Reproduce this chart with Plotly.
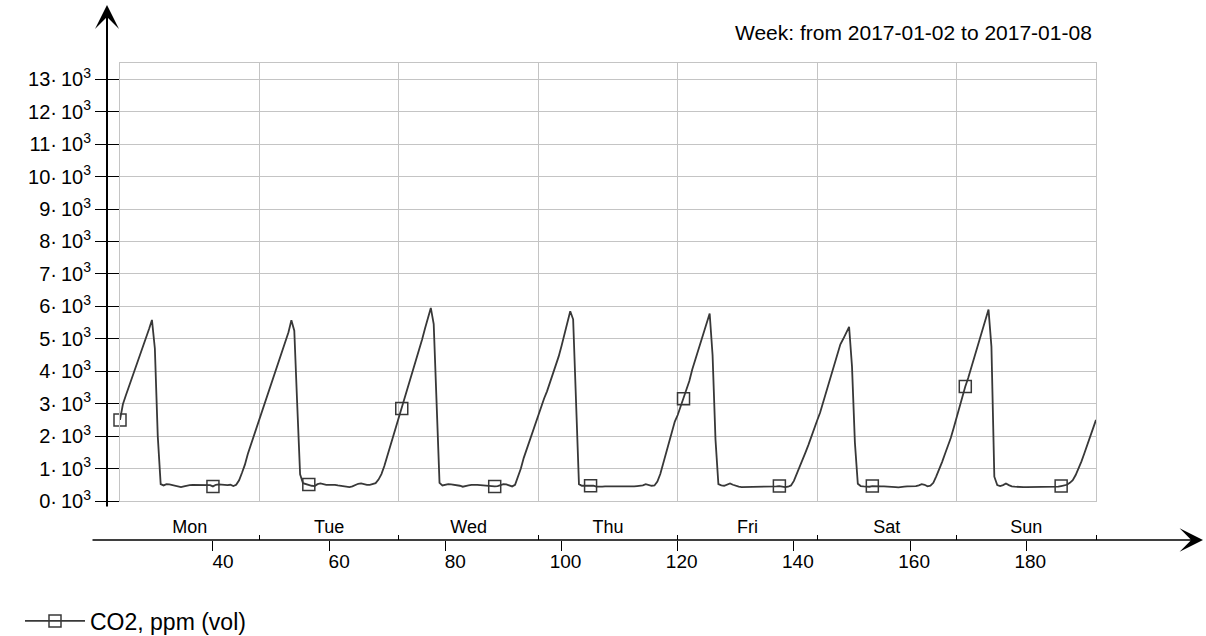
import plotly.graph_objects as go

# ---------------------------------------------------------------------------
# CO2 concentration, ppm (vol), one reading every half hour.
# Hour 24 is Monday 00:00, hour 192 is the following Monday 00:00.
# ---------------------------------------------------------------------------
day_names = ["Mon", "Tue", "Wed", "Thu", "Fri", "Sat", "Sun"]
start_hour = 24.0
step_hours = 0.5

mon = [2500, 2980, 3250, 3500, 3760, 4020, 4280, 4530, 4790, 5040, 5300, 5580,
       4700, 2000, 520, 480, 520, 510, 490, 460, 440, 430, 450, 480,
       490, 500, 500, 490, 500, 510, 500, 490, 450, 500, 510, 500,
       500, 490, 500, 460, 500, 640, 870, 1120, 1450, 1720, 1980, 2250]
tue = [2530, 2800, 3070, 3330, 3600, 3870, 4130, 4400, 4670, 4930, 5200, 5570,
       5250, 3000, 820, 550, 520, 510, 470, 460, 520, 540, 510, 500,
       500, 510, 500, 480, 470, 450, 440, 430, 450, 500, 530, 540,
       510, 500, 500, 520, 550, 660, 830, 1080, 1380, 1670, 1970, 2260]
wed = [2560, 2850, 3150, 3440, 3740, 4040, 4330, 4630, 4980, 5320, 5600, 5950,
       5450, 3000, 560, 480, 500, 520, 510, 500, 490, 470, 440, 450,
       480, 500, 510, 500, 490, 480, 470, 460, 450, 450, 460, 500,
       520, 510, 480, 450, 500, 730, 1000, 1330, 1600, 1870, 2130, 2390]
thu = [2640, 2910, 3160, 3380, 3640, 3900, 4150, 4450, 4780, 5150, 5530, 5850,
       5600, 2800, 520, 470, 460, 470, 470, 470, 440, 430, 440, 450,
       450, 450, 440, 440, 450, 450, 440, 440, 430, 450, 460, 470,
       480, 520, 500, 470, 480, 600, 830, 1150, 1480, 1800, 2120, 2450]
fri = [2650, 2900, 3150, 3420, 3700, 4050, 4350, 4650, 4950, 5220, 5480, 5780,
       4500, 1900, 520, 480, 470, 500, 540, 500, 460, 440, 430, 430,
       440, 430, 430, 440, 450, 450, 440, 440, 450, 450, 450, 460,
       440, 430, 440, 480, 620, 830, 1060, 1280, 1500, 1730, 1960, 2230]
sat = [2480, 2720, 3030, 3330, 3630, 3930, 4230, 4530, 4830, 5000, 5180, 5370,
       4150, 1800, 530, 460, 450, 440, 440, 460, 450, 450, 450, 450,
       450, 450, 450, 430, 420, 420, 440, 450, 450, 450, 460, 480,
       520, 500, 450, 470, 560, 760, 960, 1200, 1450, 1690, 1940, 2250]
sun = [2580, 2900, 3200, 3530, 3790, 4100, 4420, 4740, 5040, 5330, 5600, 5900,
       4760, 750, 490, 460, 490, 540, 490, 450, 440, 430, 430, 430,
       430, 430, 430, 430, 440, 440, 440, 440, 440, 440, 440, 440,
       460, 470, 500, 560, 640, 800, 1000, 1220, 1470, 1740, 2000, 2250]
week_end_value = 2500

# readings that carry a square marker
marker_hours = [24.0, 40.0, 56.5, 72.5, 88.5, 105.0, 121.0, 137.5, 153.5, 169.5, 186.0]

# axis ticks
hour_ticks_2d = [40, 60, 80]
hour_ticks_3d = [100, 120, 140, 160, 180]
day_bounds = [24, 48, 72, 96, 120, 144, 168, 192]
co2_ticks = [0, 1000, 2000, 3000, 4000, 5000, 6000, 7000, 8000, 9000,
             10000, 11000, 12000, 13000]

title_text = "Week: from 2017-01-02 to 2017-01-08"
series_name = "CO2, ppm (vol)"

# ---------------------------------------------------------------------------
co2 = mon + tue + wed + thu + fri + sat + sun + [week_end_value]
hours = [start_hour + step_hours * i for i in range(len(co2))]
marker_set = {round(h * 2) for h in marker_hours}

LINE = "#383838"
GRID = "#c4c4c4"
FONT = "Liberation Sans, Arial, sans-serif"

W, H = 1206, 636
M_L, M_R, M_T, M_B = 120, 110, 63, 60
PW, PH = W - M_L - M_R, H - M_T - M_B


def fx(px):
    return (px - M_L) / PW


def fy(py):
    return (H - M_B - py) / PH


x_range = [day_bounds[0], day_bounds[-1]]
axis_pos = fy(540)
day_centers = [(a + b) / 2 for a, b in zip(day_bounds[:-1], day_bounds[1:])]

fig = go.Figure()
fig.add_trace(go.Scatter(
    x=hours, y=co2, mode="lines+markers", name=series_name,
    line=dict(color=LINE, width=1.8),
    marker=dict(symbol="square-open", size=12,
                color=[LINE if round(h * 2) in marker_set else "rgba(0,0,0,0)" for h in hours],
                line=dict(width=1.5)),
    cliponaxis=False,
    hoverinfo="x+y",
))
# empty traces so that the extra horizontal axes are laid out
for ax in ["x2", "x3", "x4", "x5"]:
    fig.add_trace(go.Scatter(x=[], y=[], xaxis=ax, yaxis="y", showlegend=False,
                             hoverinfo="skip"))

common_free = dict(overlaying="x", anchor="free", position=axis_pos, range=x_range,
                   showgrid=False, zeroline=False, showline=False,
                   tickcolor="black", tickwidth=1,
                   tickfont=dict(family=FONT, size=19, color="black"))

fig.update_layout(
    width=W, height=H,
    margin=dict(l=M_L, r=M_R, t=M_T, b=M_B, autoexpand=False),
    paper_bgcolor="white", plot_bgcolor="white",
    font=dict(family=FONT, color="black"),
    xaxis=dict(domain=[0, 1], range=x_range, anchor="y",
               tickmode="array", tickvals=day_bounds, showticklabels=False, ticks="",
               showgrid=True, gridcolor=GRID, gridwidth=1,
               showline=True, linecolor=GRID, linewidth=1, mirror=True, zeroline=False),
    yaxis=dict(domain=[fy(501), 1], range=[0, 13500], anchor="x",
               tickmode="array", tickvals=co2_ticks,
               ticktext=[f"{v // 1000}·\u200910<sup>3</sup>" for v in co2_ticks],
               ticks="outside", ticklen=24, tickwidth=1, tickcolor="black",
               tickfont=dict(family=FONT, size=20, color="black"),
               showgrid=True, gridcolor=GRID, gridwidth=1,
               showline=True, linecolor=GRID, linewidth=1, mirror=True, zeroline=False),
    xaxis2=dict(common_free, tickmode="array", tickvals=hour_ticks_2d,
                ticktext=[str(v) for v in hour_ticks_2d],
                ticks="outside", ticklen=10, ticklabelshift=10, ticklabelstandoff=-6),
    xaxis5=dict(common_free, tickmode="array", tickvals=hour_ticks_3d,
                ticktext=[str(v) for v in hour_ticks_3d],
                ticks="outside", ticklen=10, ticklabelshift=4, ticklabelstandoff=-6),
    xaxis3=dict(common_free, side="top", tickmode="array", tickvals=day_bounds[1:],
                ticks="outside", ticklen=5, showticklabels=False),
    xaxis4=dict(common_free, side="top", tickmode="array", tickvals=day_centers,
                ticktext=day_names, ticks="", ticklabelstandoff=3,
                tickfont=dict(family=FONT, size=18, color="black")),
    showlegend=True,
    legend=dict(x=fx(20), y=fy(621), xanchor="left", yanchor="middle",
                itemwidth=60,
                font=dict(family=FONT, size=23, color="black"),
                bgcolor="rgba(0,0,0,0)", borderwidth=0),
    hovermode="closest",
)

# arrow-headed axis lines
fig.add_annotation(x=fx(107), y=fy(5), xref="paper", yref="paper",
                   ax=0, ay=503, axref="pixel", ayref="pixel", text="",
                   showarrow=True, arrowhead=3, arrowsize=2.0, arrowwidth=2,
                   arrowcolor="black")
fig.add_annotation(x=fx(1203), y=axis_pos, xref="paper", yref="paper",
                   ax=-1112, ay=0, axref="pixel", ayref="pixel", text="",
                   showarrow=True, arrowhead=3, arrowsize=2.6, arrowwidth=1.5,
                   arrowcolor="black")
# week caption
fig.add_annotation(x=fx(1094), y=fy(33), xref="paper", yref="paper",
                   xanchor="right", yanchor="middle", showarrow=False,
                   text=title_text, font=dict(family=FONT, size=21, color="black"))

fig.write_html("out.html")
